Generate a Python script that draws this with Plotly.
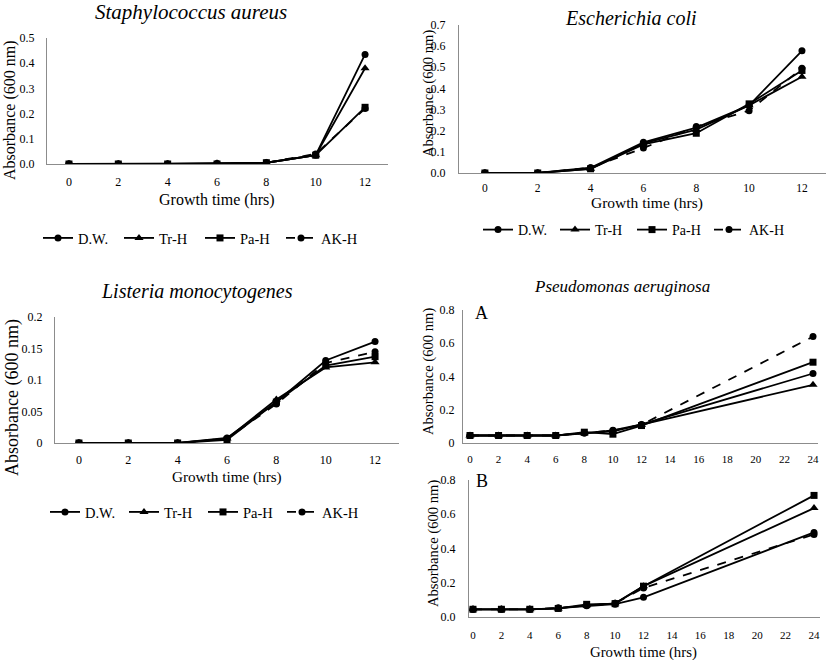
import plotly.graph_objects as go

# ---------------- data ----------------
series = ["D.W.", "Tr-H", "Pa-H", "AK-H"]
hours12 = [0, 2, 4, 6, 8, 10, 12]
hours24 = [0, 2, 4, 6, 8, 10, 12, 24]

staph_dw = [0, 0, 0, 0.002, 0.005, 0.035, 0.435]
staph_tr = [0, 0, 0, 0.003, 0.005, 0.035, 0.380]
staph_pa = [0, 0, 0, 0.000, 0.005, 0.035, 0.225]
staph_ak = [0, 0, 0, 0.000, 0.005, 0.040, 0.220]

ecoli_dw = [0, 0, 0.025, 0.145, 0.215, 0.320, 0.578]
ecoli_tr = [0, 0, 0.020, 0.140, 0.205, 0.320, 0.455]
ecoli_pa = [0, 0, 0.020, 0.135, 0.188, 0.327, 0.485]
ecoli_ak = [0, 0, 0.025, 0.118, 0.220, 0.295, 0.495]

lis_dw = [0, 0, 0, 0.008, 0.065, 0.131, 0.161]
lis_tr = [0, 0, 0, 0.007, 0.069, 0.120, 0.128]
lis_pa = [0, 0, 0, 0.005, 0.065, 0.123, 0.137]
lis_ak = [0, 0, 0, 0.007, 0.062, 0.127, 0.145]

psA_dw = [0.045, 0.045, 0.045, 0.045, 0.060, 0.076, 0.112, 0.418]
psA_tr = [0.045, 0.045, 0.045, 0.045, 0.058, 0.070, 0.110, 0.350]
psA_pa = [0.045, 0.045, 0.045, 0.045, 0.065, 0.053, 0.105, 0.486]
psA_ak = [0.045, 0.045, 0.045, 0.045, 0.060, 0.075, 0.110, 0.640]

psB_dw = [0.045, 0.045, 0.045, 0.052, 0.065, 0.075, 0.115, 0.494]
psB_tr = [0.045, 0.045, 0.045, 0.050, 0.068, 0.080, 0.180, 0.636]
psB_pa = [0.045, 0.045, 0.045, 0.050, 0.074, 0.078, 0.180, 0.710]
psB_ak = [0.045, 0.045, 0.045, 0.052, 0.068, 0.080, 0.170, 0.482]

titles = ["Staphylococcus aureus", "Escherichia coli", "Listeria monocytogenes", "Pseudomonas aeruginosa"]
ytitle = "Absorbance (600 nm)"
xtitle = "Growth time (hrs)"

# ---------------- layout helpers ----------------
W, H = 827, 660
FONT = "Liberation Serif"
AXC = "#8c8c8c"


def px(x):
    return x / W


def py(y):
    return 1 - y / H


symbols = ["circle", "triangle-up", "square", "circle"]
dashes = ["solid", "solid", "solid", "dash"]

fig = go.Figure()

panels = [
    ("x", "y", hours12, [staph_dw, staph_tr, staph_pa, staph_ak], "legend"),
    ("x2", "y2", hours12, [ecoli_dw, ecoli_tr, ecoli_pa, ecoli_ak], "legend2"),
    ("x3", "y3", hours12, [lis_dw, lis_tr, lis_pa, lis_ak], "legend3"),
    ("x4", "y4", hours24, [psA_dw, psA_tr, psA_pa, psA_ak], None),
    ("x5", "y5", hours24, [psB_dw, psB_tr, psB_pa, psB_ak], None),
]

for xa, ya, xs, data, leg in panels:
    for i, (name, vals) in enumerate(zip(series, data)):
        kw = dict(legend=leg) if leg else dict(showlegend=False)
        fig.add_trace(go.Scatter(
            x=xs, y=vals, name=name, xaxis=xa, yaxis=ya,
            mode="lines+markers",
            line=dict(color="black", width=1.8, dash=dashes[i]),
            marker=dict(symbol=symbols[i], size=8 if symbols[i] == "triangle-up" else 7, color="black"),
            **kw))

# plot boxes in reference pixels: (left, right, top, bottom)
boxes = [
    (47, 388, 38, 164),
    (459, 826, 25, 173),
    (55, 399, 317, 443),
    (463, 818, 310, 443),
    (469, 820, 480, 617),
]
xranges = [[-0.89, 12.93], [-0.98, 12.91], [-0.97, 12.97], [-0.49, 24.35], [-0.28, 24.42]]
yranges = [[0, 0.5], [0, 0.7], [0, 0.2], [0, 0.8], [0, 0.8]]
ydticks = [0.1, 0.1, 0.05, 0.2, 0.2]
yformats = [".1f", ".1f", "", "", ".1f"]
ystand = [9, 10, 9, 5, 10]
xstand = [7, 4, 6, 6, 8]
xfont = [12, 11.5, 12, 11, 11]
yfont = [12, 12, 12, 12, 12]

for k in range(5):
    l, r, t, b = boxes[k]
    sx = "" if k == 0 else str(k + 1)
    xaxis = dict(
        domain=[px(l), px(r)], range=xranges[k], anchor="y" + sx, automargin=False,
        showgrid=False, zeroline=False, showline=True, linecolor=AXC, linewidth=1,
        tickmode="linear", tick0=0, dtick=2,
        ticks="outside", ticklen=xstand[k], tickcolor="rgba(0,0,0,0)",
        tickfont=dict(family=FONT, size=xfont[k], color="black"),
    )
    yaxis = dict(
        domain=[py(b), py(t)], range=yranges[k], anchor="x" + sx, automargin=False,
        showgrid=False, zeroline=False, showline=True, linecolor=AXC, linewidth=1,
        tickmode="linear", tick0=0, dtick=ydticks[k], tickformat=yformats[k],
        ticks="outside", ticklen=ystand[k], tickcolor="rgba(0,0,0,0)",
        tickfont=dict(family=FONT, size=yfont[k], color="black"),
    )
    fig.layout["xaxis" + sx] = xaxis
    fig.layout["yaxis" + sx] = yaxis

ann = []
title_pos = [(191, 12, 21), (631, 18, 20), (197, 291, 20), (622, 286, 17)]
for txt, (x, y, s) in zip(titles, title_pos):
    ann.append(dict(text="<i>" + txt + "</i>", x=px(x), y=py(y), xref="paper", yref="paper",
                    showarrow=False, xanchor="center", yanchor="middle",
                    font=dict(family=FONT, size=s, color="black")))
ytitle_pos = [(10, 110, 16), (428, 94, 14.6), (12, 398, 18), (428, 372, 14.6), (433, 544, 14.6)]
for x, y, s in ytitle_pos:
    ann.append(dict(text=ytitle, x=px(x), y=py(y), xref="paper", yref="paper", textangle=-90,
                    showarrow=False, xanchor="center", yanchor="middle",
                    font=dict(family=FONT, size=s, color="black")))
xtitle_pos = [(217, 200, 16), (647, 203, 15.5), (227, 477, 15.2), (643, 652, 14.8)]
for x, y, s in xtitle_pos:
    ann.append(dict(text=xtitle, x=px(x), y=py(y), xref="paper", yref="paper",
                    showarrow=False, xanchor="center", yanchor="middle",
                    font=dict(family=FONT, size=s, color="black")))
for txt, (x, y) in zip(["A", "B"], [(482, 313), (482, 481)]):
    ann.append(dict(text=txt, x=px(x), y=py(y), xref="paper", yref="paper",
                    showarrow=False, xanchor="center", yanchor="middle",
                    font=dict(family=FONT, size=18, color="black")))


def leg(x, y, ew, fs):
    return dict(x=px(x), y=py(y), orientation="h", xanchor="left", yanchor="middle",
                bgcolor="rgba(0,0,0,0)", font=dict(family=FONT, size=fs, color="black"),
                itemwidth=30, entrywidth=ew, entrywidthmode="pixels", tracegroupgap=0)


fig.update_layout(
    width=W, height=H, margin=dict(l=0, r=0, t=0, b=0, autoexpand=False),
    paper_bgcolor="white", plot_bgcolor="white",
    annotations=ann,
    legend=leg(38, 238, 36, 14.5),
    legend2=leg(478, 230, 32, 14),
    legend3=leg(45, 512, 34, 14.5),
)

fig.write_html("out.html", config={"displayModeBar": False},
               post_script="document.body.style.margin='0px';")
